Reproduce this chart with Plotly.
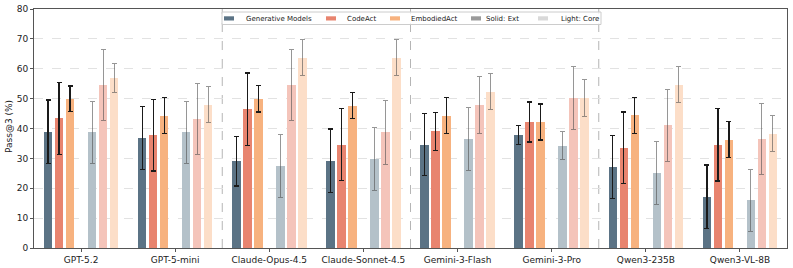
import numpy as np
import plotly.graph_objects as go

models = ["GPT-5.2", "GPT-5-mini", "Claude-Opus-4.5", "Claude-Sonnet-4.5",
          "Gemini-3-Flash", "Gemini-3-Pro", "Qwen3-235B", "Qwen3-VL-8B"]

# Ext (solid)
gen_ext = [38.9, 36.8, 29.1, 29.2, 34.6, 37.8, 27.1, 17.2]
gen_ext_err = [10.6, 10.5, 8.3, 10.6, 10.4, 3.1, 10.5, 10.6]
code_ext = [43.4, 37.8, 46.5, 34.6, 39.0, 42.2, 33.5, 34.6]
code_ext_err = [12.0, 12.0, 12.1, 12.0, 6.3, 6.7, 12.0, 12.2]
emb_ext = [49.9, 44.3, 49.9, 47.7, 44.3, 42.2, 44.4, 36.3]
emb_ext_err = [4.3, 6.0, 4.4, 4.4, 6.0, 6.0, 6.0, 6.0]

# Core (light)
gen_core = [38.7, 38.7, 27.5, 29.7, 36.5, 34.3, 25.1, 16.0]
gen_core_err = [10.5, 10.5, 10.5, 10.5, 10.5, 4.7, 10.5, 10.4]
code_core = [54.6, 43.2, 54.6, 38.8, 47.9, 50.2, 41.1, 36.5]
code_core_err = [12.0, 12.0, 12.0, 10.7, 9.6, 10.6, 12.1, 12.0]
emb_core = [56.9, 47.9, 63.7, 63.7, 52.3, 50.2, 54.7, 38.2]
emb_core_err = [5.0, 6.0, 6.0, 6.0, 6.1, 6.1, 6.1, 6.0]

y_ticks = [0, 10, 20, 30, 40, 50, 60, 70, 80]
legend_labels = ["Generative Models", "CodeAct", "EmbodiedAct", "Solid: Ext", "Light: Core"]

C_GEN = "#5b7385"
C_CODE = "#e8846f"
C_EMB = "#f7b27f"
C_GEN_L = "#b4c1c9"
C_CODE_L = "#f4c4ba"
C_EMB_L = "#fcdec8"
legend_colors = [C_GEN, C_CODE, C_EMB, "#9a9a9a", "#d9d9d9"]

font = "DejaVu Sans"
W, H = 793, 268
L, R, T, B = 34, 6, 9, 20
pw, ph = W - L - R, H - T - B

def px(x):  # pixel x -> paper x
    return (x - L) / pw

def py(y):  # pixel y -> paper y
    return (H - B - y) / ph

idx = np.arange(len(models))
step = 0.117
bw = 0.09

fig = go.Figure()

series = [
    (gen_ext, gen_ext_err, C_GEN, -3, True),
    (code_ext, code_ext_err, C_CODE, -2, True),
    (emb_ext, emb_ext_err, C_EMB, -1, True),
    (gen_core, gen_core_err, C_GEN_L, 1, False),
    (code_core, code_core_err, C_CODE_L, 2, False),
    (emb_core, emb_core_err, C_EMB_L, 3, False),
]
for vals, errs, col, k, solid in series:
    fig.add_trace(go.Bar(
        x=idx + k * step, y=vals, width=bw,
        marker=dict(color=col, line=dict(width=0)),
        showlegend=False, hoverinfo="y",
        error_y=dict(type="data", array=errs, visible=True,
                     color="#1a1a1a" if solid else "rgba(80,80,80,0.6)",
                     thickness=1.3 if solid else 1.0, width=2.5),
    ))

for sep in [1.5, 3.5, 5.5]:
    fig.add_shape(type="line", x0=sep, x1=sep, y0=0, y1=1, yref="y domain",
                  line=dict(color="#b5b5b5", width=1, dash="dash"), layer="below")

# legend (matplotlib-like box)
fig.add_shape(type="rect", xref="paper", yref="paper",
              x0=px(222), x1=px(601), y0=py(24.5), y1=py(12),
              fillcolor="rgba(255,255,255,0.8)", line=dict(color="#cccccc", width=1),
              layer="above")
patch_x = [224, 326, 390, 471, 538]
text_x = [244, 345, 409, 484, 559]
for lab, col, p0, t0 in zip(legend_labels, legend_colors, patch_x, text_x):
    fig.add_shape(type="rect", xref="paper", yref="paper",
                  x0=px(p0), x1=px(p0 + 10), y0=py(20.5), y1=py(16.3),
                  fillcolor=col, line=dict(width=0), layer="above")
    fig.add_annotation(xref="paper", yref="paper", x=px(t0), y=py(18.5),
                       xanchor="left", yanchor="middle", showarrow=False,
                       text=lab, font=dict(size=7, family=font, color="#222"))

fig.add_annotation(xref="paper", yref="paper", x=px(9), y=py(127),
                   xanchor="center", yanchor="middle", showarrow=False,
                   textangle=-90, text="Pass@3 (%)",
                   font=dict(size=9, family=font, color="#222"))

fig.update_layout(
    width=W, height=H,
    margin=dict(l=L, r=R, t=T, b=B, autoexpand=False),
    paper_bgcolor="white", plot_bgcolor="white",
    font=dict(family=font, size=9, color="#222"),
    barmode="overlay", bargap=0, showlegend=False,
    xaxis=dict(range=[-0.5, 7.5], tickvals=list(idx), ticktext=models,
               showgrid=False, zeroline=False, showline=True, mirror=True,
               linecolor="#555", linewidth=1, ticks="outside", ticklen=3,
               tickcolor="#555", tickfont=dict(size=9), automargin=False),
    yaxis=dict(range=[0, 80], tickvals=y_ticks, showgrid=True,
               gridcolor="#e2e2e2", griddash="dash", gridwidth=1,
               zeroline=False, showline=True, mirror=True, linecolor="#555",
               linewidth=1, ticks="outside", ticklen=3, tickcolor="#555",
               tickfont=dict(size=9), automargin=False),
)

fig.write_html("out.html", config={"displayModeBar": False},
               post_script="document.body.style.margin='0';document.body.style.overflow='hidden';")
